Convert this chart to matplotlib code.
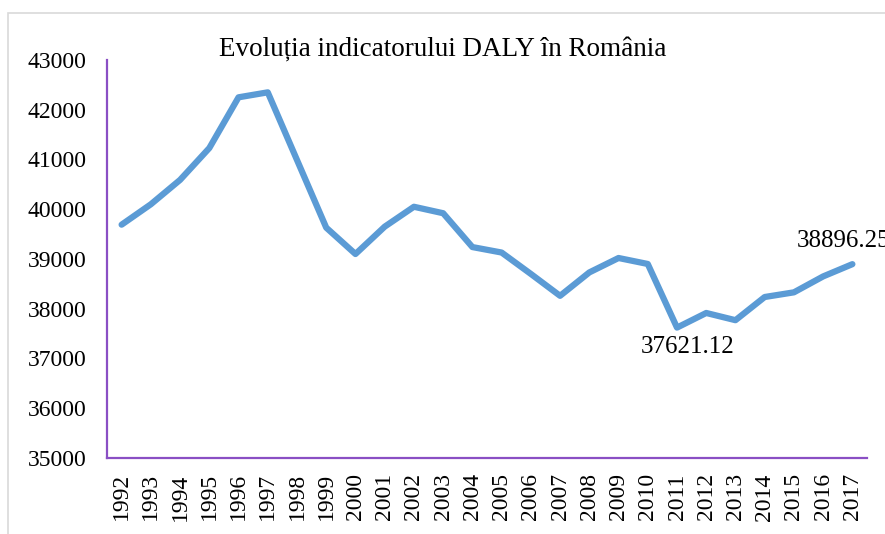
import matplotlib.pyplot as plt
from matplotlib.patches import Rectangle

years = list(range(1992, 2018))
daly = [39690, 40100, 40590, 41230, 42250, 42350, 40990, 39630, 39100, 39650,
        40050, 39920, 39240, 39130, 38700, 38260, 38730, 39020, 38900, 37621.12,
        37915, 37770, 38236, 38330, 38650, 38896.25]
labelled = {2011: 37621.12, 2017: 38896.25}

plt.rcParams['font.family'] = ['Liberation Serif', 'DejaVu Serif']

fig = plt.figure(figsize=(8.85, 5.34), dpi=100)
ax = fig.add_axes([107 / 885, 1 - 458 / 534, 760 / 885, 398 / 534])

x = list(range(len(years)))
ax.plot(x, daly, color='#5B9BD5', lw=4.5, solid_joinstyle='round', solid_capstyle='round')

ax.set_xlim(-0.5, len(years) - 0.5)
ax.set_ylim(35000, 43000)
ax.set_yticks(range(35000, 43001, 1000))
ax.set_xticks(x)
ax.set_xticklabels([str(y) for y in years], rotation=90)
ax.tick_params(length=0, labelsize=17)
ax.tick_params(axis='y', pad=15)
ax.tick_params(axis='x', pad=11)

for s in ['top', 'right']:
    ax.spines[s].set_visible(False)
for s in ['left', 'bottom']:
    ax.spines[s].set_color('#8A4FC4')
    ax.spines[s].set_linewidth(1.6)

# value labels for the low point and the last year
for yr, v in labelled.items():
    i = years.index(yr)
    if yr == 2011:
        ax.annotate(f'{v:.2f}', (i, v), xytext=(8, -6), textcoords='offset points',
                    ha='center', va='top', fontsize=18)
    else:
        ax.annotate(f'{v:.2f}', (i, v), xytext=(-6.5, 17), textcoords='offset points',
                    ha='center', va='center', fontsize=18, annotation_clip=False)

fig.text(443 / 885, 1 - 49 / 534, 'Evoluția indicatorului DALY în România',
         ha='center', va='center', fontsize=19.5)

fig.patches.append(Rectangle((8 / 885, -0.05), 1, 1 - 12.5 / 534 + 0.05,
                             transform=fig.transFigure,
                             fill=False, edgecolor='#D9D9D9', lw=1.2))

fig.savefig('out.png', dpi=100)
